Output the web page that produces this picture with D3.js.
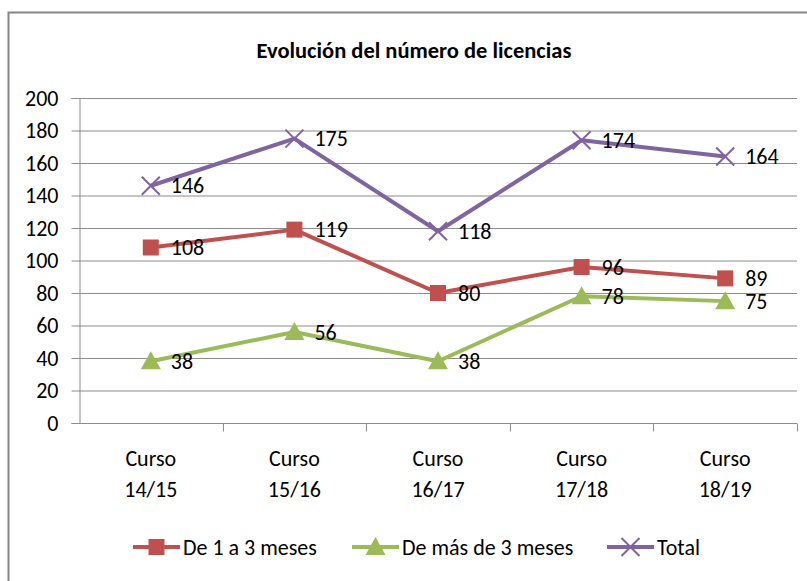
<!DOCTYPE html>
<html><head><meta charset="utf-8">
<script src="https://cdn.jsdelivr.net/npm/d3@7"></script>
<style>
html,body{margin:0;padding:0;background:#fff;}
svg{display:block;}
text{font-family:Carlito,Calibri,"Liberation Sans Narrow","DejaVu Sans Condensed",sans-serif;}
</style></head>
<body>
<svg id="chart" width="807" height="581"></svg>
<script>
const categories = ["Curso 14/15","Curso 15/16","Curso 16/17","Curso 17/18","Curso 18/19"];
const seriesNames = ["De 1 a 3 meses","De más de 3 meses","Total"];
const deUnoATres = [108,119,80,96,89];
const deMasDeTres = [38,56,38,78,75];
const total = [146,175,118,174,164];
const yTicks = [0,20,40,60,80,100,120,140,160,180,200];
const title = "Evolución del número de licencias";

const colors = ["#C0504D","#9BBB59","#8064A2"];
const markers = ["square","triangle","x"];
const series = [deUnoATres, deMasDeTres, total];

const svg = d3.select("#chart");
svg.append("path").attr("d","M8.5,581 L8.5,12.5 L807,12.5")
  .attr("fill","none").attr("stroke","#868686").attr("stroke-width",2);

const pLeft=79, pRight=797, pTop=98, pBottom=423;
const x = d3.scaleBand().domain(categories).range([pLeft,pRight]);
const y = d3.scaleLinear().domain([0,200]).range([pBottom,pTop]);

svg.append("text").attr("x",414).attr("y",58).attr("text-anchor","middle")
  .attr("font-weight","bold").attr("font-size",22.5).attr("fill","#000").text(title);

svg.append("g").selectAll("line").data(yTicks.filter(d=>d>0)).join("line")
  .attr("x1",pLeft).attr("x2",pRight).attr("y1",d=>y(d)+0.5).attr("y2",d=>y(d)+0.5)
  .attr("stroke","#8c8c8c").attr("stroke-width",1);

const yAxis = d3.axisLeft(y).tickValues(yTicks).tickSize(8).tickPadding(13);
const gy = svg.append("g").attr("transform",`translate(${pLeft+0.5},0)`).call(yAxis);
gy.select(".domain").attr("stroke","#8c8c8c");
gy.selectAll(".tick line").attr("stroke","#8c8c8c");
gy.selectAll(".tick text").attr("font-size",22).attr("fill","#000");
gy.attr("font-family",null).attr("font-size",null);

const gx = svg.append("g").attr("transform",`translate(0,${pBottom+0.5})`);
gx.append("line").attr("x1",pLeft).attr("x2",pRight).attr("stroke","#8c8c8c");
const bounds = categories.map(c=>x(c)).concat([x(categories[categories.length-1])+x.bandwidth()]);
gx.selectAll(".tk").data(bounds.slice(1)).join("line").attr("class","tk")
  .attr("x1",d=>Math.round(d)+0.5).attr("x2",d=>Math.round(d)+0.5).attr("y1",0).attr("y2",8)
  .attr("stroke","#8c8c8c");
const xl = gx.selectAll(".xl").data(categories).join("text").attr("class","xl")
  .attr("x",d=>x(d)+x.bandwidth()/2).attr("text-anchor","middle")
  .attr("font-size",22).attr("fill","#000");
xl.append("tspan").attr("x",d=>x(d)+x.bandwidth()/2).attr("y",42).text(d=>d.split(" ")[0]);
xl.append("tspan").attr("x",d=>x(d)+x.bandwidth()/2).attr("y",73).text(d=>d.split(" ")[1]);

function drawMarker(g, type, color, cx, cy){
  if(type==="square"){
    g.append("rect").attr("x",cx-8).attr("y",cy-8).attr("width",16).attr("height",16).attr("fill",color);
  } else if(type==="triangle"){
    g.append("path").attr("d",`M${cx},${cy-10} L${cx+10},${cy+8} L${cx-10},${cy+8} Z`).attr("fill",color);
  } else {
    g.append("path").attr("d",`M${cx-9},${cy-9} L${cx+9},${cy+9} M${cx-9},${cy+9} L${cx+9},${cy-9}`)
      .attr("stroke",color).attr("stroke-width",2).attr("fill","none");
  }
}

const line = d3.line().x((d,i)=>x(categories[i])+x.bandwidth()/2).y(d=>y(d));
series.forEach((vals,si)=>{
  const g = svg.append("g");
  g.append("path").datum(vals).attr("d",line).attr("fill","none")
    .attr("stroke",colors[si]).attr("stroke-width",4).attr("stroke-linejoin","round");
  vals.forEach((v,i)=>drawMarker(g,markers[si],colors[si],x(categories[i])+x.bandwidth()/2,y(v)));
});
series.forEach((vals,si)=>{
  svg.append("g").selectAll("text").data(vals).join("text")
    .attr("x",(d,i)=>x(categories[i])+x.bandwidth()/2+20).attr("y",d=>y(d))
    .attr("dy","0.35em").attr("font-size",22).attr("fill","#000").text(d=>d);
});

const legX = [133,352,607];
seriesNames.forEach((n,si)=>{
  const g = svg.append("g");
  const lx = legX[si], ly = 547;
  g.append("line").attr("x1",lx).attr("x2",lx+47).attr("y1",ly).attr("y2",ly)
    .attr("stroke",colors[si]).attr("stroke-width",4);
  drawMarker(g,markers[si],colors[si],lx+23.5,ly);
  g.append("text").attr("x",lx+50).attr("y",ly).attr("dy","0.35em")
    .attr("font-size",22).attr("fill","#000").text(n);
});
</script>
</body></html>
